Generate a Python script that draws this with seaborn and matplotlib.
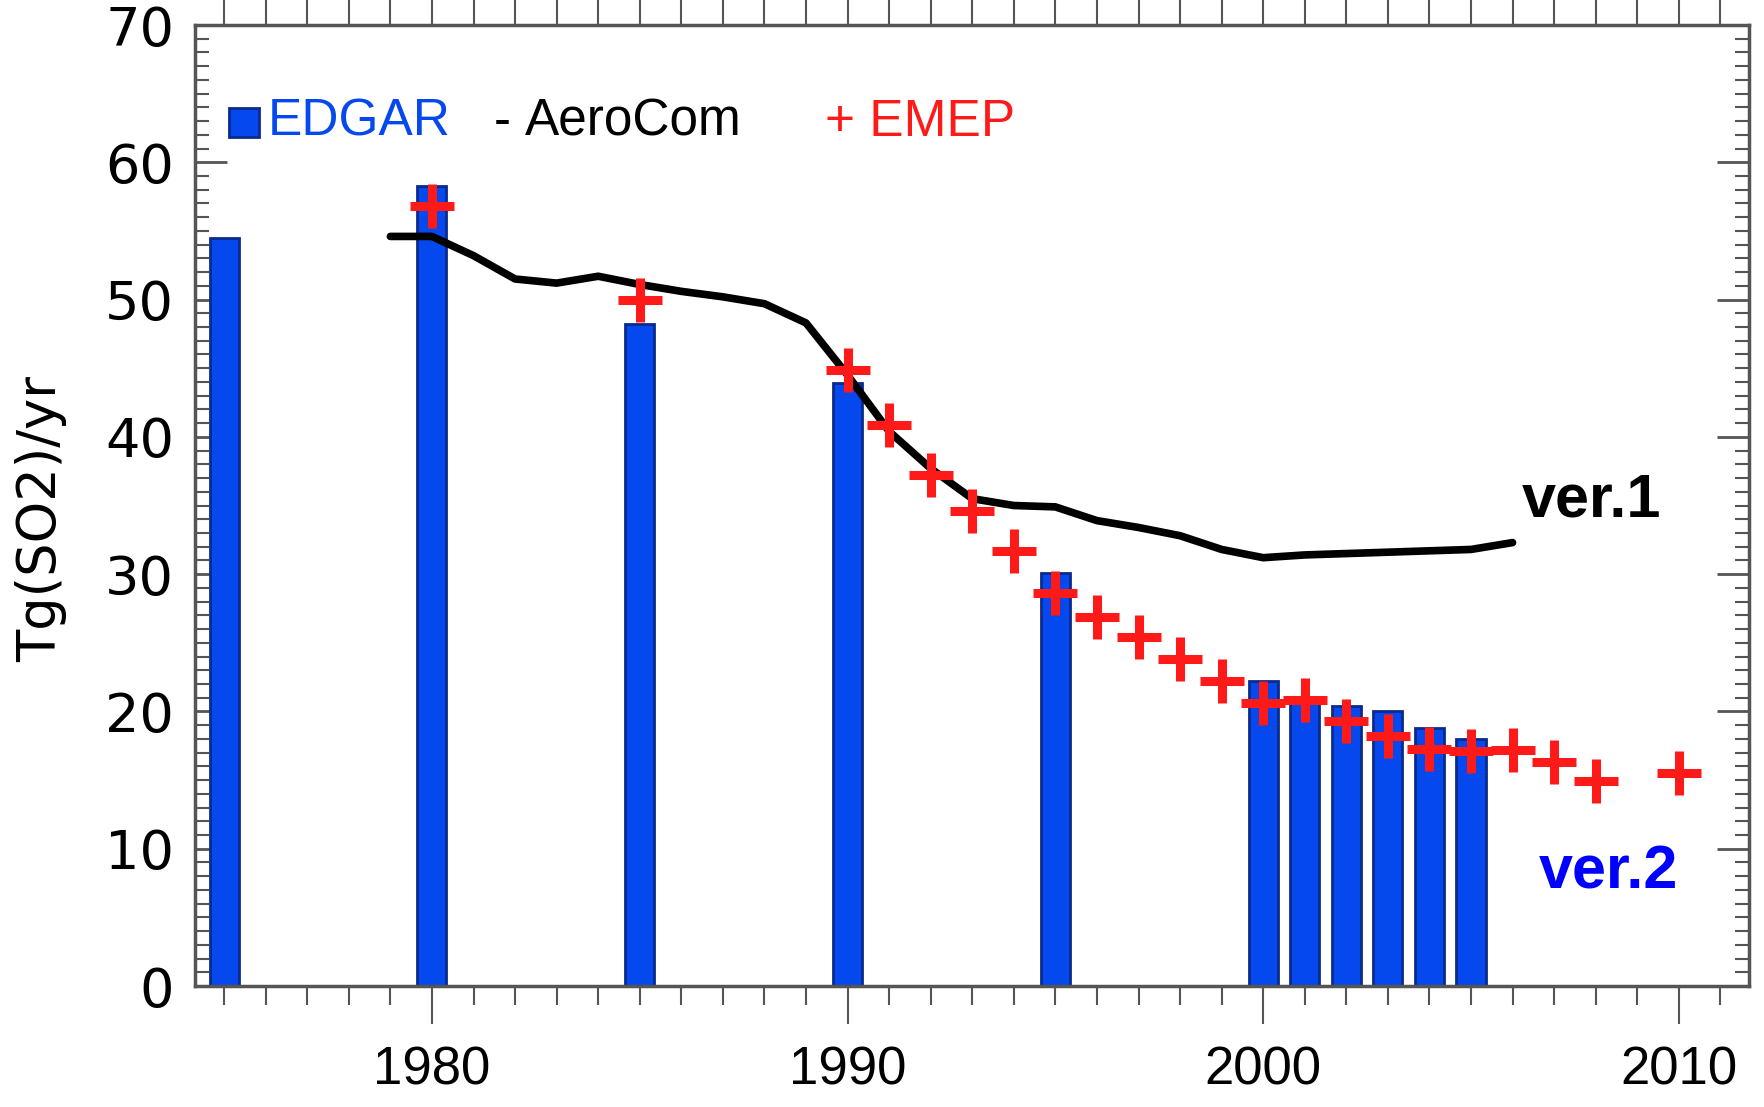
import numpy as np
import pandas as pd
import matplotlib
matplotlib.use("Agg")
import matplotlib.pyplot as plt
from matplotlib.patches import Rectangle
from matplotlib.ticker import MultipleLocator
import seaborn as sns

# EDGAR bars
edgar_years = [1975, 1980, 1985, 1990, 1995, 2000, 2001, 2002, 2003, 2004, 2005]
edgar_so2 = [54.5, 58.3, 48.2, 43.9, 30.1, 22.2, 21.0, 20.4, 20.0, 18.8, 18.0]

# AeroCom line (ver.1)
aerocom_years = list(range(1979, 2007))
aerocom_so2 = [54.6, 54.6, 53.2, 51.5, 51.2, 51.7, 51.1, 50.6, 50.2, 49.7, 48.3,
               44.5, 40.4, 37.7, 35.5, 35.0, 34.9, 33.9, 33.4, 32.8, 31.8,
               31.2, 31.4, 31.5, 31.6, 31.7, 31.8, 32.3]

# EMEP crosses
emep_years = [1980, 1985, 1990, 1991, 1992, 1993, 1994, 1995, 1996, 1997, 1998,
              1999, 2000, 2001, 2002, 2003, 2004, 2005, 2006, 2007, 2008, 2010]
emep_so2 = [56.8, 50.0, 44.9, 40.9, 37.2, 34.6, 31.7, 28.6, 26.9, 25.4, 23.8,
            22.2, 20.6, 20.8, 19.3, 18.2, 17.3, 17.1, 17.2, 16.3, 14.9, 15.5]

x_ticks = [1980, 1990, 2000, 2010]
y_ticks = [0, 10, 20, 30, 40, 50, 60, 70]

bar_blue = "#0549ee"
bar_edge = "#0a2a8c"
emep_red = "#ff1a1a"
axis_grey = "#555555"

sns.set_style("white")
plt.rcParams["font.family"] = ["Liberation Sans", "DejaVu Sans"]

fig = plt.figure(figsize=(17.65, 11.07), dpi=100)
ax = fig.add_axes([0.1105, 0.1093, 0.8807, 0.8681])

sns.barplot(x=edgar_years, y=edgar_so2, native_scale=True, width=0.7,
            color=bar_blue, saturation=1, edgecolor=bar_edge, linewidth=2,
            errorbar=None, zorder=2, ax=ax)
sns.lineplot(x=aerocom_years, y=aerocom_so2, color="black", linewidth=5.5,
             zorder=4, ax=ax)
sns.scatterplot(x=emep_years, y=emep_so2, marker="+", s=1000, color=emep_red,
                linewidth=6.5, zorder=5, legend=False, ax=ax)

ax.set_xlim(1974.3, 2011.7)
ax.set_ylim(0, 70)

ax.set_xticks(x_ticks)
ax.set_xticklabels([str(t) for t in x_ticks])
ax.xaxis.set_minor_locator(MultipleLocator(1))
ax.set_yticks(y_ticks)
ax.set_yticklabels([str(t) for t in y_ticks], fontfamily="DejaVu Sans")
ax.yaxis.set_minor_locator(MultipleLocator(1))

ax.tick_params(axis="x", which="major", bottom=True, top=False, direction="out",
               length=27, width=1.5, color=axis_grey, pad=16, labelsize=38,
               labelcolor="black")
ax.tick_params(axis="x", which="minor", bottom=True, top=False, direction="out",
               length=14, width=1.5, color=axis_grey)
ax.tick_params(axis="y", which="major", left=True, right=True, direction="in",
               length=23, width=2, color=axis_grey, pad=15, labelsize=39,
               labelcolor="black")
ax.tick_params(axis="y", which="minor", left=True, right=True, direction="in",
               length=10, width=1.5, color=axis_grey)

top = ax.secondary_xaxis("top")
top.xaxis.set_major_locator(MultipleLocator(1))
top.tick_params(axis="x", which="major", direction="out", length=30, width=1.5,
                color=axis_grey, labeltop=False)
top.spines["top"].set_visible(False)

for side in ["left", "right", "top", "bottom"]:
    ax.spines[side].set_visible(True)
    ax.spines[side].set_color(axis_grey)
    ax.spines[side].set_linewidth(2.5)

ax.set_xlabel("")
ax.set_ylabel("Tg(SO2)/yr", fontsize=38, fontfamily="DejaVu Sans", color="black")
ax.yaxis.set_label_coords(-0.082, 0.486)

# in-plot key
ax.add_patch(Rectangle((0.0216, 0.883), 0.0196, 0.031, transform=ax.transAxes,
                       facecolor=bar_blue, edgecolor=bar_edge, linewidth=2, zorder=6))
ax.text(0.0465, 0.899, "EDGAR", color=bar_blue, fontsize=37, ha="left",
        va="center", transform=ax.transAxes)
ax.text(0.192, 0.899, "-", color="black", fontsize=37, ha="left",
        va="center", transform=ax.transAxes)
ax.text(0.212, 0.899, "AeroCom", color="black", fontsize=37, ha="left",
        va="center", transform=ax.transAxes)
ax.text(0.405, 0.899, "+ EMEP", color=emep_red, fontsize=37, ha="left",
        va="center", transform=ax.transAxes)

ax.text(2007.9, 35.3, "ver.1", color="black", fontsize=44, fontweight="bold",
        ha="center", va="center")
ax.text(2008.3, 8.2, "ver.2", color="#0000ff", fontsize=44, fontweight="bold",
        ha="center", va="center")

fig.savefig("out.png", dpi=100)
